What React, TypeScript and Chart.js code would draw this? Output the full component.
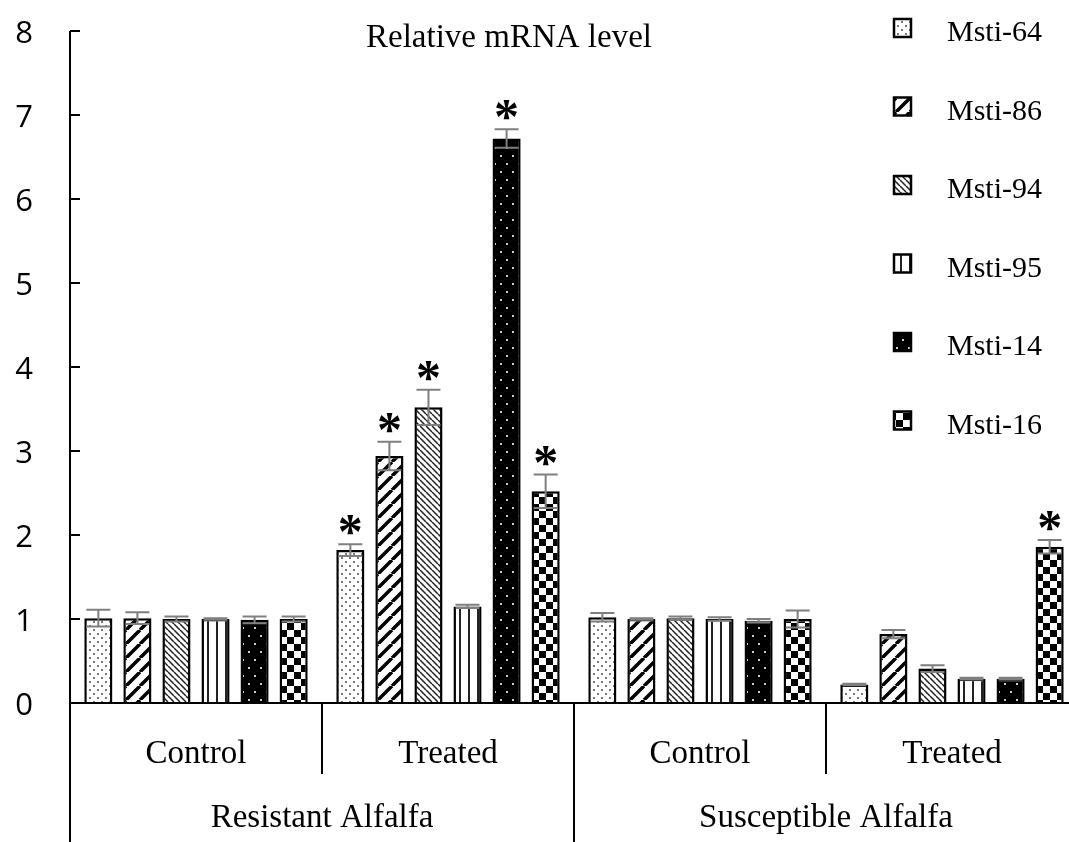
import React, { useEffect, useRef } from "react";
import { Chart, registerables } from "chart.js";

Chart.register(...registerables);

// ---------- data ----------
const conditionLabels = ["Control", "Treated", "Control", "Treated"];
const cultivarLabels = ["Resistant Alfalfa", "Susceptible Alfalfa"];
const seriesNames = ["Msti-64", "Msti-86", "Msti-94", "Msti-95", "Msti-14", "Msti-16"];

const msti64 = [1.01, 1.82, 1.02, 0.22];
const msti86 = [1.01, 2.94, 1.0, 0.82];
const msti94 = [1.0, 3.52, 1.01, 0.41];
const msti95 = [1.0, 1.15, 1.0, 0.29];
const msti14 = [0.99, 6.72, 0.98, 0.29];
const msti16 = [1.0, 2.52, 1.0, 1.86];

const err64 = [0.1, 0.07, 0.05, 0.01];
const err86 = [0.07, 0.17, 0.01, 0.05];
const err94 = [0.03, 0.21, 0.02, 0.04];
const err95 = [0.01, 0.02, 0.02, 0.01];
const err14 = [0.04, 0.11, 0.02, 0.01];
const err16 = [0.03, 0.2, 0.1, 0.08];

const sig64 = [false, true, false, false];
const sig86 = [false, true, false, false];
const sig94 = [false, true, false, false];
const sig95 = [false, false, false, false];
const sig14 = [false, true, false, false];
const sig16 = [false, true, false, true];

const yTicks = [0, 1, 2, 3, 4, 5, 6, 7, 8];

const seriesValues = [msti64, msti86, msti94, msti95, msti14, msti16];
const seriesErrors = [err64, err86, err94, err95, err14, err16];
const seriesSig = [sig64, sig86, sig94, sig95, sig14, sig16];

// ---------- patterns ----------
function makePattern(kind: string): CanvasPattern | string {
  const t = document.createElement("canvas");
  let w = 8, h = 8;
  if (kind === "dots") { w = 8; h = 8; }
  if (kind === "wide") { w = 14; h = 14; }
  if (kind === "thin") { w = 6; h = 6; }
  if (kind === "vert") { w = 9; h = 4; }
  if (kind === "blackdots") { w = 12; h = 16; }
  if (kind === "checker") { w = 14; h = 14; }
  t.width = w; t.height = h;
  const c = t.getContext("2d")!;
  c.fillStyle = kind === "blackdots" ? "#000" : "#fff";
  c.fillRect(0, 0, w, h);
  if (kind === "dots") {
    c.fillStyle = "#7a7a7a";
    c.fillRect(1, 1, 2, 2);
    c.fillRect(5, 5, 2, 2);
  } else if (kind === "wide") {
    c.strokeStyle = "#000";
    c.lineWidth = 3.5;
    c.beginPath();
    for (const o of [-w, 0, w]) { c.moveTo(o, h); c.lineTo(o + w, 0); }
    c.stroke();
  } else if (kind === "thin") {
    c.strokeStyle = "#222";
    c.lineWidth = 1.5;
    c.beginPath();
    for (const o of [-w, 0, w]) { c.moveTo(o, 0); c.lineTo(o + w, h); }
    c.stroke();
  } else if (kind === "vert") {
    c.fillStyle = "#222";
    c.fillRect(0, 0, 2, h);
  } else if (kind === "blackdots") {
    c.fillStyle = "#d0d0d0";
    c.fillRect(2, 3, 2, 2);
    c.fillRect(8, 11, 2, 2);
  } else if (kind === "checker") {
    c.fillStyle = "#000";
    c.fillRect(0, 0, 7, 7);
    c.fillRect(7, 7, 7, 7);
  }
  return c.createPattern(t, "repeat") || "#fff";
}

const patternKinds = ["dots", "wide", "thin", "vert", "blackdots", "checker"];

export default function App() {
  const ref = useRef<HTMLCanvasElement>(null);

  useEffect(() => {
    const canvas = ref.current!;
    const patterns = patternKinds.map(makePattern);

    const overlay = {
      id: "overlay",
      afterDatasetsDraw(chart: any) {
        const ctx = chart.ctx as CanvasRenderingContext2D;
        const y = chart.scales.y;
        const area = chart.chartArea;
        ctx.save();
        // error bars and significance marks
        ctx.strokeStyle = "#7f7f7f";
        ctx.lineWidth = 2;
        seriesValues.forEach((vals, i) => {
          const meta = chart.getDatasetMeta(i);
          vals.forEach((v, j) => {
            const e = seriesErrors[i][j];
            const bx = meta.data[j].x;
            const top = y.getPixelForValue(v + e);
            const bot = y.getPixelForValue(v - e);
            const cap = 12;
            ctx.strokeStyle = "#7f7f7f";
            ctx.lineWidth = 2;
            ctx.beginPath();
            ctx.moveTo(bx, top); ctx.lineTo(bx, bot);
            ctx.moveTo(bx - cap, top); ctx.lineTo(bx + cap, top);
            ctx.moveTo(bx - cap, bot); ctx.lineTo(bx + cap, bot);
            ctx.stroke();
            if (seriesSig[i][j]) {
              ctx.fillStyle = "#000";
              ctx.font = 'bold 50px "Liberation Serif"';
              ctx.textAlign = "center";
              ctx.textBaseline = "alphabetic";
              ctx.fillText("*", bx, top + 4);
            }
          });
        });
        // axes
        ctx.strokeStyle = "#000";
        ctx.lineWidth = 2;
        ctx.beginPath();
        ctx.moveTo(area.left, area.top);
        ctx.lineTo(area.left, chart.height);
        ctx.moveTo(area.left, area.bottom);
        ctx.lineTo(area.right, area.bottom);
        yTicks.forEach((t) => {
          const py = y.getPixelForValue(t);
          ctx.moveTo(area.left, py);
          ctx.lineTo(area.left + 10, py);
        });
        const cw = (area.right - area.left) / conditionLabels.length;
        for (let k = 1; k < conditionLabels.length; k++) {
          const px = area.left + cw * k;
          ctx.moveTo(px, area.bottom);
          ctx.lineTo(px, k === conditionLabels.length / 2 ? chart.height : area.bottom + 71);
        }
        ctx.stroke();
        // y tick labels
        ctx.fillStyle = "#000";
        ctx.font = '31px "Open Sans"';
        ctx.textAlign = "right";
        ctx.textBaseline = "middle";
        yTicks.forEach((t) => {
          ctx.fillText(String(t), 33, y.getPixelForValue(t) + 3);
        });
        // x labels
        ctx.font = '33px "Liberation Serif"';
        ctx.textAlign = "center";
        ctx.textBaseline = "alphabetic";
        conditionLabels.forEach((l, k) => {
          ctx.fillText(l, area.left + cw * (k + 0.5), 763);
        });
        cultivarLabels.forEach((l, k) => {
          ctx.fillText(l, area.left + cw * 2 * (k + 0.5), 827);
        });
        // title
        ctx.fillText("Relative mRNA level", 509, 47);
        // legend
        ctx.font = '30px "Liberation Serif"';
        ctx.textAlign = "left";
        seriesNames.forEach((n, i) => {
          const base = 41 + 78.5 * i;
          ctx.fillStyle = patterns[i] as any;
          ctx.fillRect(894, base - 22, 17, 18);
          ctx.strokeStyle = "#000";
          ctx.lineWidth = 2.5;
          ctx.strokeRect(894, base - 22, 17, 18);
          ctx.fillStyle = "#000";
          ctx.fillText(n, 947, base);
        });
        ctx.restore();
      },
    };

    const chart = new Chart(canvas, {
      type: "bar",
      data: {
        labels: conditionLabels,
        datasets: seriesNames.map((n, i) => ({
          label: n,
          data: seriesValues[i],
          backgroundColor: patterns[i] as any,
          borderColor: "#000",
          borderWidth: 2.5,
          borderSkipped: "bottom",
          categoryPercentage: 0.93,
          barPercentage: 0.72,
        })),
      },
      options: {
        responsive: false,
        animation: false,
        devicePixelRatio: 1,
        layout: { padding: { left: 70, top: 31, bottom: 139, right: 0 } },
        plugins: { legend: { display: false }, tooltip: { enabled: false }, title: { display: false } },
        scales: {
          x: { display: false },
          y: { display: false, min: 0, max: 8 },
        },
      },
      plugins: [overlay],
    });
    return () => chart.destroy();
  }, []);

  return (
    <div style={{ position: "fixed", left: 0, top: 0, width: 1069, height: 842, overflow: "hidden", background: "#fff" }}>
      <canvas ref={ref} width={1078} height={842} style={{ display: "block" }} />
    </div>
  );
}
